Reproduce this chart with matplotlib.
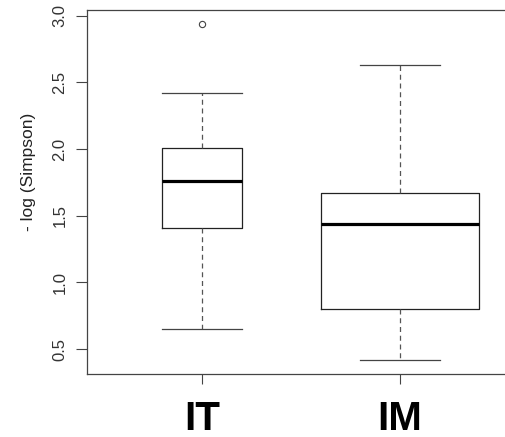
import matplotlib
matplotlib.use("Agg")
import matplotlib.pyplot as plt

# dane
grupy = ["IT", "IM"]
wasy_dol = [0.65, 0.42]
q1 = [1.41, 0.80]
mediana = [1.76, 1.44]
q3 = [2.01, 1.67]
wasy_gora = [2.42, 2.63]
odstajace = [[2.94], []]
szerokosci = [0.4, 0.8]  # varwidth: pudełko IM jest szersze

y_ticks = [0.5, 1.0, 1.5, 2.0, 2.5, 3.0]

plt.rcParams["font.family"] = ["Liberation Sans", "DejaVu Sans"]

fig = plt.figure(figsize=(5.05, 4.37), dpi=100)
ax = fig.add_axes([87 / 505, 1 - 374 / 437, 428 / 505, 364 / 437])

stats = []
for i, g in enumerate(grupy):
    stats.append({
        "label": g,
        "whislo": wasy_dol[i],
        "q1": q1[i],
        "med": mediana[i],
        "q3": q3[i],
        "whishi": wasy_gora[i],
        "fliers": odstajace[i],
    })

ax.bxp(
    stats,
    positions=[1, 2],
    widths=szerokosci,
    showfliers=True,
    boxprops=dict(color="#222222", linewidth=0.9),
    medianprops=dict(color="black", linewidth=2.3, solid_capstyle="butt"),
    whiskerprops=dict(color="#555555", linewidth=0.9, linestyle=(0, (4, 3))),
    capprops=dict(color="#444444", linewidth=0.9),
    capwidths=[0.4, 0.4],
    flierprops=dict(marker="o", markersize=4.5, markerfacecolor="none",
                    markeredgecolor="#444444", markeredgewidth=0.8),
)

ax.set_xlim(0.42, 2.58)
ax.set_ylim(0.313, 3.043)

ax.set_yticks(y_ticks)
ax.set_yticklabels([f"{v:.1f}" for v in y_ticks], rotation=90, va="center",
                   fontsize=12, color="#333333")
ax.set_xticks([1, 2])
ax.set_xticklabels(grupy, fontsize=29, fontweight="bold", color="black")
ax.tick_params(axis="y", length=8, width=0.8, color="#444444", pad=6)
ax.tick_params(axis="x", length=7, width=0.8, color="#444444", pad=12)

for s in ["left", "bottom", "top"]:
    ax.spines[s].set_color("#444444")
    ax.spines[s].set_linewidth(0.9)
ax.spines["right"].set_visible(False)

fig.text(28 / 505, 1 - 172 / 437, "- log (Simpson)", rotation=90,
         ha="center", va="center", fontsize=12.5, color="#222222")

fig.savefig("out.png", dpi=100)
